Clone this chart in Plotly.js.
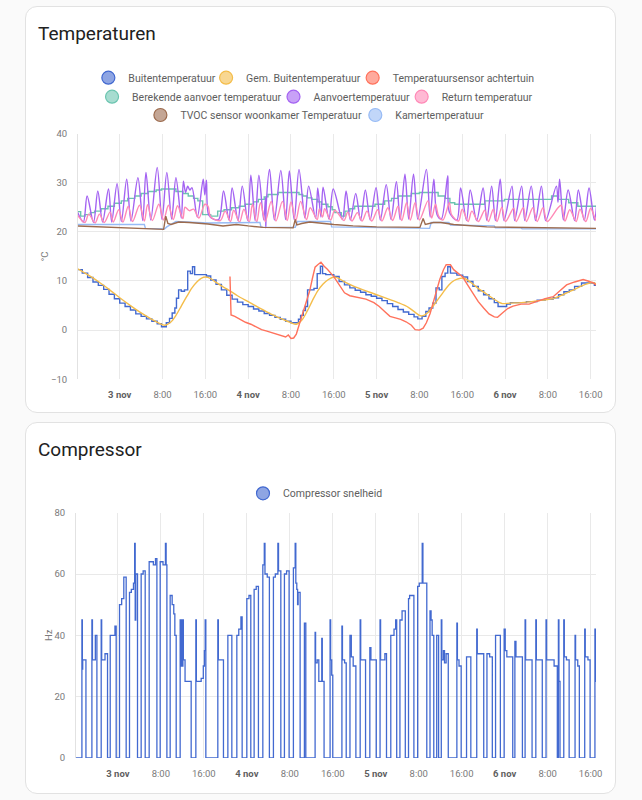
<!DOCTYPE html>
<html><head><meta charset="utf-8">
<script src="https://cdn.plot.ly/plotly-3.0.1.min.js"></script>
<style>
html,body{margin:0;padding:0;background:#fafafa;width:642px;height:800px;overflow:hidden;font-family:Roboto,sans-serif}
.card{position:absolute;left:25px;width:591px;background:#fff;border:1px solid #e2e2e2;border-radius:12px;box-sizing:border-box}
#c1{top:6px;height:407px}
#c2{top:422px;height:372px}
#chart{position:absolute;left:0;top:0;width:642px;height:800px}
</style></head><body>
<div class="card" id="c1"></div><div class="card" id="c2"></div>
<div id="chart"></div>
<script>
// ---- data (hours since 3 nov 00:00, value) ----
const tickHours = [0, 8, 16, 24, 32, 40, 48, 56, 64, 72, 80, 88];
const tickLabels = ['<b>3 nov</b>','8:00','16:00','<b>4 nov</b>','8:00','16:00','<b>5 nov</b>','8:00','16:00','<b>6 nov</b>','8:00','16:00'];

const buitenTemp = [[-8,12.3],[-7,11.6],[-6,10.7],[-5,9.8],[-4,9.1],[-3,8.3],[-2,7.3],[-1,6.4],[0,5.5],[1,4.8],[2,4.1],[3,3.3],[4,2.8],[5,2.3],[6,1.8],[7,1.3],[7.8,0.7],[8.7,1.5],[9.3,2.4],[9.8,3.5],[10.3,4.5],[10.6,6.5],[11.0,8.2],[11.5,7.9],[12.1,8.2],[12.7,12.0],[13.2,11.5],[13.6,12.9],[14.0,11.3],[16.2,11.0],[17,10.2],[18,9.3],[19,8.2],[20,7.1],[21,6.3],[22,5.7],[23,5.2],[24,4.8],[25,4.3],[26,3.9],[27,3.4],[28,3.0],[29,2.6],[30,2.2],[31,1.8],[32,1.5],[33.4,2.2],[33.8,3.0],[34.3,4.0],[34.7,4.8],[35.1,8.2],[36.3,8.5],[36.9,11.5],[37.5,13.0],[37.9,11.5],[38.5,11.3],[40,10.9],[41,9.9],[42,9.2],[43,8.6],[44,8.1],[45,7.7],[46,7.2],[47,6.9],[48,6.5],[49,6.0],[50,5.4],[51,4.8],[52,4.2],[53,3.7],[54,3.2],[55,2.7],[55.7,2.3],[56.5,2.8],[57.2,3.8],[57.8,4.5],[58.5,5.5],[59.1,8.6],[59.7,8.2],[60.2,10.9],[60.8,11.6],[61.3,12.9],[61.8,11.6],[63,11.2],[64.1,10.8],[65,9.9],[66,8.9],[67,8.0],[68,7.2],[69,6.4],[70,5.6],[70.7,4.8],[72.3,5.3],[73,5.6],[76,5.8],[78,6.1],[79.5,6.3],[81,6.6],[82,7.2],[83,7.8],[84,8.2],[85,8.9],[86.3,9.6],[88.7,9.1],[89.2,9.1]];

const gemBuitenTemp = [[-7.9,12.5],[-6,11.3],[-4,9.9],[-2,8.3],[0,6.6],[2,5.0],[4,3.5],[6,2.2],[8,1.1],[8.5,1.0],[9.5,1.6],[10.5,3.0],[11.5,4.9],[12.5,6.8],[13.5,8.6],[14.5,9.9],[15.3,10.6],[16,10.8],[17,10.5],[18,9.7],[19,9.0],[20,8.4],[22,7.0],[24,5.8],[26,4.6],[28,3.4],[30,2.4],[32,1.5],[33,1.2],[34,2.0],[35,3.8],[36,6.0],[37,8.0],[38,9.4],[39,10.3],[40,10.8],[41,10.5],[42,9.8],[44,8.8],[46,8.0],[48,7.2],[50,6.4],[52,5.6],[54,4.6],[56,3.0],[56.5,2.9],[57.5,3.5],[58.5,4.8],[59.5,6.3],[60.5,7.8],[61.5,9.2],[62.5,10.1],[63.5,10.5],[64.3,10.6],[65.5,9.8],[67,8.5],[69,7.0],[71,5.6],[71.5,5.4],[73,5.5],[75,5.6],[77,5.8],[79,6.1],[81,6.4],[83,7.3],[85,8.3],[87,9.3],[88.3,9.7],[89.1,9.4]];

const achtertuinTemp = [[20.6,10.9],[20.8,3.1],[21.5,2.8],[22.5,2.2],[23.5,1.6],[24.5,1.2],[25.5,0.6],[26.5,0.1],[27.5,-0.2],[28.5,-0.5],[29.5,-0.9],[30.3,-1.2],[31,-1.4],[31.5,-1.0],[32,-1.7],[32.5,-1.6],[33,-0.8],[33.5,1.0],[34,2.7],[34.5,4.2],[35,5.8],[35.5,8.0],[36,10.5],[36.5,12.8],[37,13.3],[37.6,13.8],[38.2,13.0],[38.8,12.4],[40,10.9],[41,9.3],[42,7.6],[43,7.0],[44.5,6.7],[46,6.3],[47.5,5.6],[48.5,4.8],[49.5,3.8],[50.5,2.8],[51.5,2.5],[52.5,2.2],[53.5,1.7],[54.5,1.0],[55.2,0.1],[56,0],[56.7,0.4],[57.3,1.5],[58,3.4],[58.6,5.8],[59.2,8.2],[59.8,10.3],[60.5,12.3],[61,13.3],[61.8,13.3],[62.4,12.3],[63.2,11.6],[64.1,10.8],[65,9.2],[66,7.5],[67,5.8],[68,4.5],[69,3.3],[70,2.7],[70.6,2.6],[71.4,3.4],[72.5,4.4],[73.5,4.9],[75,5.3],[76.5,5.3],[78,5.9],[79.5,6.4],[81,6.8],[82.5,8.2],[83.5,9.2],[85,9.8],[86.6,10.3],[87.5,10.0],[88.5,9.6],[89.1,9.1]];

const berekendeAanvoer = [[-7.9,24.1],[-7.3,23.2],[-6.5,23.5],[-5.5,23.9],[-4.7,24.2],[-3.5,24.7],[-2.2,25.2],[-1,25.8],[0.3,26.3],[1.5,26.8],[2.8,27.3],[4,27.8],[5.3,28.2],[6.8,28.5],[7.8,28.7],[10.5,28.2],[11.8,27.8],[12.8,27.3],[13.8,26.8],[14.6,26.3],[15.5,23.5],[17,23.2],[18.3,24.2],[19.5,24.5],[20.9,24.9],[22.3,25.2],[23.4,25.6],[25,26.1],[25.9,26.6],[27,27.1],[27.7,27.6],[29.6,28.0],[33.5,27.6],[34.2,27.3],[35,26.9],[35.9,26.6],[37,26.1],[37.7,25.6],[38.9,25.1],[39.7,24.5],[40.2,23.9],[41.4,23.2],[42.1,24.2],[43,24.7],[43.9,25.2],[47.7,25.6],[49.5,26.3],[50.8,26.8],[52,27.3],[54.5,27.8],[56,28.0],[59.5,27.3],[60.8,26.8],[61.7,25.9],[62.6,25.6],[68.2,26.3],[71.9,26.6],[80.7,27.3],[82,26.6],[83.9,25.9],[85.6,25.2],[89.2,25.2]];

const aanvoerTemp = [[-7.9,24.0],[-6.8,22.0],[-6.1,27.3],[-4.9,21.9],[-4.1,28.3],[-3.2,22.0],[-2.1,28.7],[-1.5,22.0],[-0.5,29.8],[0.3,22.1],[1.3,30.7],[2.1,22.2],[3.4,31.0],[4.3,22.3],[4.9,32.1],[5.8,22.4],[7.0,33.1],[7.9,22.5],[8.8,32.1],[9.7,22.6],[10.5,31.0],[11.5,22.8],[11.9,30.3],[12.3,28.0],[12.7,29.3],[13.1,28.5],[13.5,29.0],[14.5,23.0],[15.6,30.7],[15.9,27.5],[16.2,30.5],[16.6,23.5],[17.5,22.6],[18.5,22.5],[19.4,28.3],[20.4,22.4],[21.0,28.9],[22.1,22.3],[22.9,29.3],[23.9,22.3],[24.5,31.5],[25.3,22.3],[26.0,31.5],[26.9,22.4],[27.25,27.0],[27.3,20.8],[27.4,26.0],[28.0,32.7],[28.9,22.4],[30.1,32.5],[31.0,22.5],[31.7,32.4],[32.6,22.5],[33.5,32.7],[34.6,22.8],[35.3,29.3],[36.6,22.8],[37.0,28.9],[37.6,23.0],[38.0,29.1],[39.1,22.6],[39.9,28.7],[41.6,22.5],[42.3,28.3],[43.1,22.4],[44.1,27.8],[45.0,22.4],[45.9,28.5],[46.8,22.4],[47.9,29.0],[48.7,22.4],[49.8,29.6],[50.7,22.5],[51.7,30.2],[52.4,22.5],[53.3,31.7],[54.0,22.6],[54.9,31.7],[55.7,22.6],[57.3,32.7],[58.0,23.0],[58.7,30.7],[59.3,23.5],[60.1,22.6],[61.3,31.4],[61.6,24.0],[63.0,22.4],[63.7,28.9],[64.8,22.3],[65.5,28.5],[66.7,22.3],[67.9,28.9],[68.6,22.3],[69.5,29.3],[70.2,22.3],[71.1,30.7],[71.8,22.3],[73.3,29.3],[73.8,22.3],[75.1,29.3],[75.7,22.3],[76.9,29.3],[77.7,22.3],[78.8,29.3],[79.6,22.3],[81.6,29.3],[81.9,26.0],[82.2,30.7],[82.9,22.4],[83.8,28.5],[85.0,22.3],[85.7,28.5],[86.8,22.3],[87.7,28.9],[88.7,22.4],[89.2,26.5]];

const returnTemp = [[-7.9,23.4],[-6.5,21.9],[-5.8,23.6],[-4.6,21.8],[-3.8,23.6],[-2.9,21.9],[-1.8,24.0],[-1.2,22.0],[-0.2,24.5],[0.6,22.0],[1.6,25.2],[2.4,22.1],[3.7,25.4],[4.6,22.2],[5.2,25.5],[6.1,22.3],[7.3,25.6],[8.2,22.4],[9.1,25.4],[10.0,22.5],[10.8,25.3],[11.8,22.7],[12.2,25.0],[13.0,24.3],[13.8,24.6],[14.8,22.8],[15.9,25.6],[16.5,25.2],[17.0,23.0],[18.8,22.3],[19.7,24.2],[20.7,22.1],[21.3,24.4],[22.4,22.0],[23.2,24.6],[24.2,22.0],[24.8,25.6],[25.6,22.0],[26.3,25.9],[27.2,22.1],[28.3,26.2],[29.2,22.2],[30.4,26.2],[31.3,22.3],[32.0,26.1],[32.9,22.3],[33.8,26.2],[34.9,22.5],[35.6,24.9],[36.9,22.5],[37.3,24.6],[37.9,23.0],[38.3,24.7],[39.4,22.4],[40.2,24.4],[41.9,22.3],[42.6,24.0],[43.4,22.2],[44.4,23.9],[45.3,22.2],[46.2,24.2],[47.1,22.2],[48.2,24.5],[49.0,22.2],[50.1,24.9],[51.0,22.3],[52.0,25.2],[52.7,22.3],[53.6,25.9],[54.3,22.4],[55.2,25.9],[56.0,22.4],[57.6,26.3],[58.3,22.8],[59.0,25.6],[59.6,23.2],[60.4,22.4],[61.6,25.9],[62.0,23.5],[63.3,22.2],[64.0,24.6],[65.1,22.1],[65.8,24.2],[67.0,22.1],[68.2,24.4],[68.9,22.1],[69.8,24.6],[70.5,22.1],[71.4,25.0],[72.1,22.1],[73.6,24.8],[74.1,22.1],[75.4,24.9],[76.0,22.1],[77.2,24.9],[78.0,22.1],[79.1,24.9],[79.9,22.1],[81.9,24.9],[82.5,25.4],[83.2,22.2],[84.1,24.5],[85.3,22.1],[86.0,24.6],[87.1,22.1],[88.0,24.8],[89.0,22.3],[89.2,23.0]];

const tvocTemp = [[-7.9,21.2],[-4,21.0],[0,20.9],[4,20.7],[8.2,20.5],[8.6,23.2],[9.0,21.7],[9.6,21.5],[11,22.0],[13,21.9],[16.5,21.6],[19.3,21.2],[21.8,21.5],[24,21.2],[26.8,20.9],[32.4,20.8],[32.8,22.5],[33.1,21.4],[34,21.7],[35.5,22.0],[37.9,21.7],[40,21.5],[43.6,21.2],[48,21.0],[56.1,20.9],[56.7,22.7],[57.1,21.5],[58.6,21.9],[60,21.9],[62.4,21.5],[68.6,21.0],[75,20.9],[81,20.8],[89.2,20.7]];

const kamerTemp = [[-7.9,21.5],[4.6,21.5],[4.8,20.7],[8.4,20.6],[8.8,21.0],[10.5,22.1],[16.5,21.8],[24,21.9],[26.2,21.9],[26.4,20.9],[32.8,20.9],[33.2,22.1],[39.4,22.1],[39.6,21.0],[47,20.9],[56.5,20.7],[57.9,20.7],[58.2,21.9],[61.5,21.9],[61.8,21.4],[70,21.2],[70.2,20.8],[75,20.8],[75.2,20.6],[82,20.6],[89.2,20.6]];

const compressorHz = [[-7.9,0],[-6.70,45],[-6.62,29],[-6.55,32],[-5.95,0],[-4.84,45],[-4.74,32],[-4.2,40],[-3.91,0],[-3.11,45],[-3.02,32],[-2.4,34],[-1.93,0],[-1.43,40],[-0.55,43],[-0.32,0],[0.30,50],[0.7,52],[1.1,59],[1.54,0],[2.16,54],[2.5,55],[2.9,57],[3.12,70],[3.22,45],[3.32,60],[3.65,0],[4.33,60],[4.7,61],[5.08,0],[5.82,64],[6.6,63],[7.0,65],[7.26,0],[7.87,64],[8.4,63],[8.85,70],[8.98,63],[9.12,0],[9.73,53],[10.1,50],[10.4,47],[10.6,40],[10.85,0],[11.59,45],[11.66,30],[11.74,45],[11.82,30],[11.9,45],[11.98,30],[12.1,45],[12.18,32],[12.5,25],[13.64,0],[14.51,45],[14.6,25],[15.5,26],[15.9,30],[16.1,35],[16.25,45],[16.37,0],[18.60,45],[18.7,32],[19.65,0],[20.47,40],[21.21,0],[22.14,40],[22.5,42],[22.9,46],[23.13,0],[24.00,52],[24.4,53],[24.74,0],[25.36,55],[25.75,56],[26.16,0],[26.98,63],[27.25,70],[27.38,60],[27.8,59],[28.20,0],[28.95,59],[29.3,60],[29.78,70],[29.9,61],[30.33,0],[31.00,60],[31.4,61],[31.87,0],[32.67,62],[33.0,70],[33.12,57],[33.3,55],[33.45,50],[33.55,54],[33.92,0],[34.72,44],[34.98,0],[36.71,41],[36.8,31],[37.1,32],[37.4,25],[37.95,39],[38.05,25],[38.38,0],[39.5,45],[39.6,32],[39.8,27],[40.0,0],[41.7,43],[41.8,32],[42.2,31],[42.5,0],[43.2,40],[43.45,33],[43.8,30],[44.3,0],[45.1,45],[45.2,32],[46.1,0],[46.9,36],[47.1,32],[48.1,0],[48.8,45],[48.9,32],[49.7,34],[50.0,0],[50.8,40],[51.4,42],[51.7,45],[51.9,0],[52.5,45],[52.9,48],[53.5,0],[54.1,52],[54.3,53],[55.1,0],[55.8,56],[56.1,57],[56.65,70],[56.78,57],[57.5,0],[58.1,48],[58.3,45],[58.5,40],[58.8,0],[59.35,40],[59.7,0],[60.2,45],[60.3,32],[60.6,35],[60.8,31],[61.1,34],[61.5,0],[63.1,44],[63.2,32],[63.5,30],[63.9,0],[64.9,33],[65.7,0],[66.8,42],[66.9,34],[68.1,0],[68.7,34],[69.2,33],[69.7,0],[70.3,40],[71.2,0],[71.9,42],[72.1,35],[72.4,33],[73.5,0],[73.9,38],[74.1,33],[75.3,0],[75.8,45],[75.9,32],[77.1,0],[77.8,45],[77.9,32],[79.0,0],[79.7,45],[79.8,32],[81.2,30],[81.8,0],[82.0,45],[82.1,25],[82.3,0],[83.0,45],[83.1,33],[83.5,32],[84.0,0],[85.1,40],[85.2,32],[85.6,30],[85.9,0],[86.9,42],[87.0,33],[87.5,32],[87.9,0],[88.8,42],[88.95,25],[89.2,25]];

// ---- helpers ----
const BASE = Date.UTC(2023, 10, 3, 0, 0, 0);
function toDate(h){ return new Date(BASE + Math.round(h*3600)*1000).toISOString().slice(0,19).replace('T',' '); }
const FONT = 'Roboto, sans-serif';

const series = [
  {name:'Buitentemperatuur', data:buitenTemp, color:'#4269d0', fill:'rgba(66,105,208,0.6)', shape:'hv', legend:'legend', pos:[113,123.7]},
  {name:'Gem. Buitentemperatuur', data:gemBuitenTemp, color:'#f4bd4a', fill:'rgba(244,189,74,0.6)', shape:'spline', legend:'legend2', pos:[230.6,241.6]},
  {name:'Temperatuursensor achtertuin', data:achtertuinTemp, color:'#ff725c', fill:'rgba(255,114,92,0.6)', shape:'linear', legend:'legend3', pos:[376.7,388.6]},
  {name:'Berekende aanvoer temperatuur', data:berekendeAanvoer, color:'#6cc5b0', fill:'rgba(108,197,176,0.6)', shape:'hv', legend:'legend4', pos:[116.3,127.8]},
  {name:'Aanvoertemperatuur', data:aanvoerTemp, color:'#a463f2', fill:'rgba(164,99,242,0.6)', shape:'spline', legend:'legend5', pos:[298,309]},
  {name:'Return temperatuur', data:returnTemp, color:'#ff8ab7', fill:'rgba(255,138,183,0.6)', shape:'spline', legend:'legend6', pos:[425.7,437.6]},
  {name:'TVOC sensor woonkamer Temperatuur', data:tvocTemp, color:'#9c6b4e', fill:'rgba(156,107,78,0.6)', shape:'linear', legend:'legend7', pos:[164.5,176.3]},
  {name:'Kamertemperatuur', data:kamerTemp, color:'#97bbf5', fill:'rgba(151,187,245,0.6)', shape:'linear', legend:'legend8', pos:[379.6,391]}
];
const rowY = {legend:77.7, legend2:77.7, legend3:77.7, legend4:96.7, legend5:96.7, legend6:96.7, legend7:115, legend8:115, legend9:493.3};

const traces = [];
// draw order: Kamertemperatuur below TVOC
const drawOrder = [0,1,2,3,4,5,7,6];
drawOrder.forEach(i => {
  const s = series[i];
  traces.push({type:'scatter', mode:'lines', x:s.data.map(p=>toDate(p[0])), y:s.data.map(p=>p[1]),
    line:{color:s.color, width:1.4, shape:s.shape, smoothing:0.9}, showlegend:false, legendgroup:s.name, name:s.name,
    hoverinfo:'skip', xaxis:'x', yaxis:'y'});
});
series.forEach(s => {
  traces.push({type:'scatter', mode:'markers', x:[null], y:[null], name:s.name, legend:s.legend, legendgroup:s.name,
    marker:{size:13, color:s.fill, line:{color:s.color, width:1.2}}, xaxis:'x', yaxis:'y'});
});
traces.push({type:'scatter', mode:'lines', x:compressorHz.map(p=>toDate(p[0])), y:compressorHz.map(p=>p[1]),
  line:{color:'#4269d0', width:1.3, shape:'hv'}, showlegend:false, legendgroup:'comp', name:'Compressor snelheid',
  hoverinfo:'skip', xaxis:'x2', yaxis:'y2'});
traces.push({type:'scatter', mode:'markers', x:[null], y:[null], name:'Compressor snelheid', legend:'legend9', legendgroup:'comp',
  marker:{size:13, color:'rgba(66,105,208,0.6)', line:{color:'#4269d0', width:1.2}}, xaxis:'x2', yaxis:'y2'});

const W = 642, H = 800;
const tickFont = {family:FONT, size:9.5, color:'#7a7a7a'};
const grid = '#e9e9e9';
function xax(domain, anchor){
  return {type:'date', domain:domain, anchor:anchor, range:[toDate(-7.8), toDate(89.0)],
    tickmode:'array', tickvals:tickHours.map(toDate), ticktext:tickLabels.map(t=>t.startsWith('<b>')?'<span style="color:#5f5f5f">'+t+'</span>':t),
    showgrid:true, gridcolor:grid, gridwidth:1, zeroline:false, showline:false, ticks:'',
    tickfont:tickFont, ticklabelstandoff:8, fixedrange:true};
}
function yax(domain, anchor, range, dtick, title){
  return {domain:domain, anchor:anchor, range:range, dtick:dtick, tick0:0, showgrid:true, gridcolor:grid, gridwidth:1,
    zeroline:false, showline:true, linecolor:'#e2e2e2', linewidth:1, ticks:'', tickfont:tickFont, ticklabelstandoff:8,
    title:{text:title, font:{family:FONT, size:9.5, color:'#7a7a7a'}, standoff:0}, fixedrange:true};
}

const layout = {
  width:W, height:H, margin:{l:0, r:0, t:0, b:0, pad:0},
  paper_bgcolor:'rgba(0,0,0,0)', plot_bgcolor:'rgba(0,0,0,0)',
  font:{family:FONT},
  title:{text:'Temperaturen', x:38/W, xanchor:'left', xref:'paper', y:1-33/H, yanchor:'middle', yref:'paper',
    font:{family:FONT, size:19, color:'#212121'}},
  xaxis: xax([78/W, 596/W], 'y'),
  yaxis: yax([1-379.3/H, 1-133.5/H], 'x', [-10, 40], 10, '°C'),
  xaxis2: xax([76/W, 596/W], 'y2'),
  yaxis2: yax([1-758/H, 1-512.7/H], 'x2', [0, 80], 20, 'Hz'),
  annotations:[{text:'Compressor', xref:'paper', yref:'paper', x:36/W, y:1-449/H, xanchor:'left', yanchor:'middle',
    showarrow:false, font:{family:FONT, size:19, color:'#212121'}}]
};
const legendNames = ['legend','legend2','legend3','legend4','legend5','legend6','legend7','legend8','legend9'];
const legendPos = series.map(s=>s.pos).concat([[267.7,278.3]]);
legendNames.forEach((ln, i) => {
  const p = legendPos[i];
  const mid = (p[0]+p[1])/2;
  layout[ln] = {x:(mid-30)/W, xanchor:'left', y:1-rowY[ln]/H, yanchor:'middle', orientation:'h',
    bgcolor:'rgba(0,0,0,0)', borderwidth:0, itemsizing:'trace',
    font:{family:FONT, size:10.5, color:'#5e5e5e'}};
});

Plotly.newPlot('chart', traces, layout, {displayModeBar:false, staticPlot:true});
</script></body></html>
